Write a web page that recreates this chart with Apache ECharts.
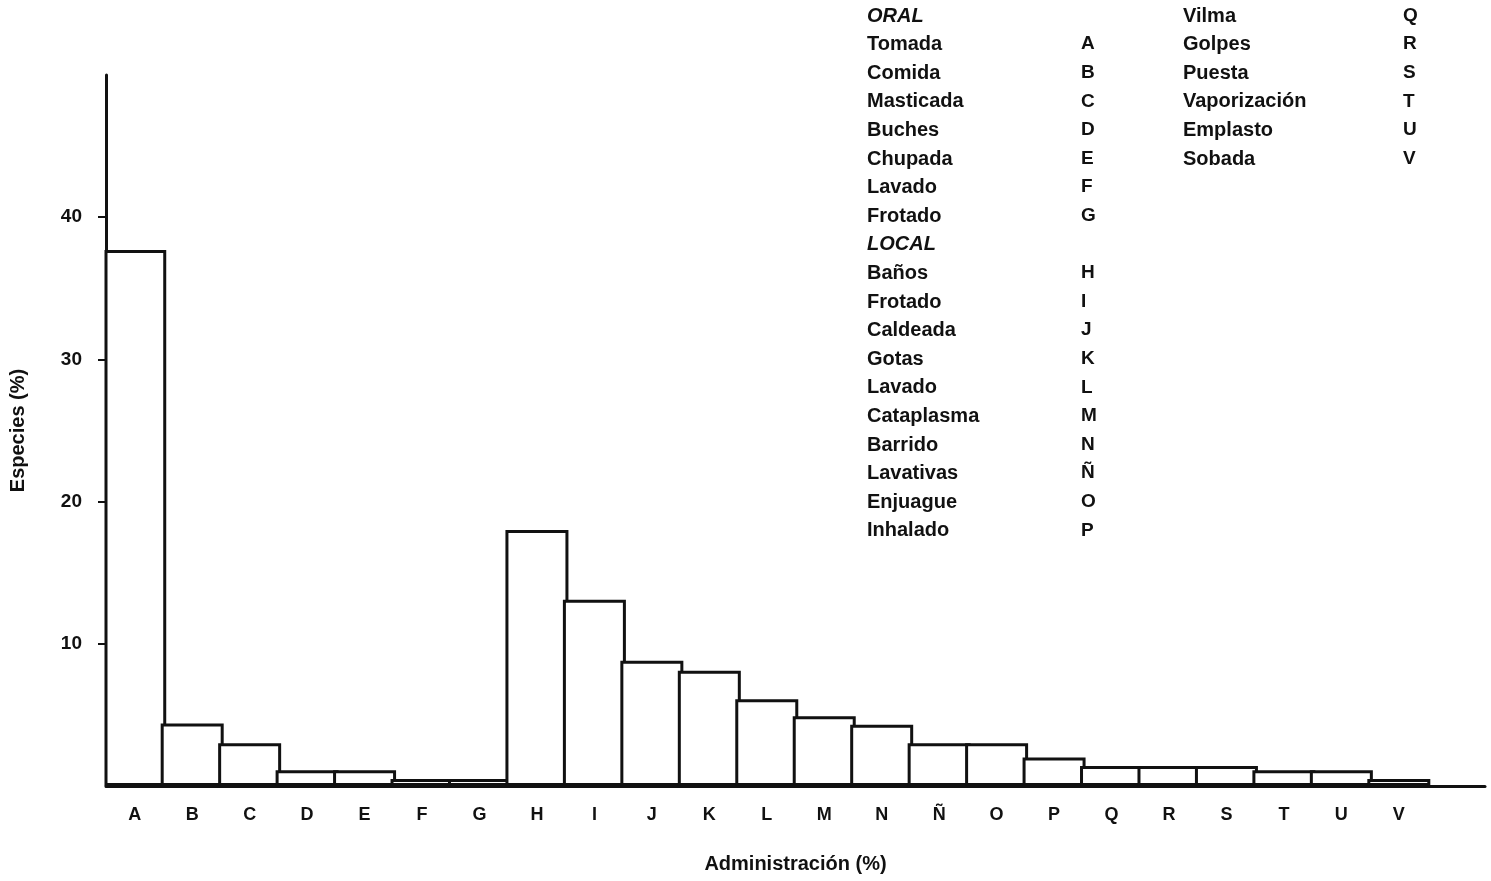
<!DOCTYPE html>
<html><head><meta charset="utf-8">
<script src="https://cdn.jsdelivr.net/npm/echarts@6/dist/echarts.min.js"></script>
<style>html,body{margin:0;padding:0;background:#fff}#c{width:1491px;height:881px}</style>
</head><body><div id="c"></div>
<script>
const categories = ['A','B','C','D','E','F','G','H','I','J','K','L','M','N','Ñ','O','P','Q','R','S','T','U','V'];
const values = [37.7,4.4,3.0,1.1,1.1,0.5,0.5,18.0,13.1,8.8,8.1,6.1,4.9,4.3,3.0,3.0,2.0,1.4,1.4,1.4,1.1,1.1,0.5];
const yTicks = [10,20,30,40];
const legendCol1 = [
  ['ORAL',''],['Tomada','A'],['Comida','B'],['Masticada','C'],['Buches','D'],['Chupada','E'],['Lavado','F'],['Frotado','G'],
  ['LOCAL',''],['Baños','H'],['Frotado','I'],['Caldeada','J'],['Gotas','K'],['Lavado','L'],['Cataplasma','M'],['Barrido','N'],['Lavativas','Ñ'],['Enjuague','O'],['Inhalado','P']
];
const legendCol2 = [['Vilma','Q'],['Golpes','R'],['Puesta','S'],['Vaporización','T'],['Emplasto','U'],['Sobada','V']];

const font = 'Liberation Sans, Arial, sans-serif';
const graphics = [];
function addCol(list, xName, xLetter) {
  list.forEach((item, i) => {
    const y = 17 + i * 28.6;
    const header = item[1] === '';
    graphics.push({type:'text', left:xName, top:y-11, style:{text:item[0], font:(header?'italic bold ':'bold ')+'20px '+font, fill:'#111'}});
    if (!header) graphics.push({type:'text', left:xLetter, top:y-11, style:{text:item[1], font:'bold 19px '+font, fill:'#111'}});
  });
}
addCol(legendCol1, 867, 1081);
addCol(legendCol2, 1183, 1403);

const chart = echarts.init(document.getElementById('c'));
chart.setOption({
  backgroundColor:'#fff',
  animation:false,
  grid:{left:105, right:6, top:75, bottom:95},
  xAxis:{
    type:'category', data:categories.concat(['']),
    name:'Administración (%)', nameLocation:'middle', nameGap:68,
    nameTextStyle:{color:'#111', fontWeight:'bold', fontSize:20, fontFamily:font},
    axisLine:{lineStyle:{color:'#111', width:3}},
    axisTick:{show:false},
    axisLabel:{color:'#111', fontWeight:'bold', fontSize:18, fontFamily:font, margin:20, interval:0}
  },
  yAxis:{
    type:'value', min:0, max:50,
    name:'Especies (%)', nameLocation:'middle', nameGap:78, nameRotate:90,
    nameTextStyle:{color:'#111', fontWeight:'bold', fontSize:20, fontFamily:font},
    splitLine:{show:false},
    axisLine:{show:true, lineStyle:{color:'#111', width:3}},
    axisTick:{show:true, length:8, lineStyle:{color:'#111', width:2}, customValues:yTicks},
    axisLabel:{color:'#111', fontWeight:'bold', fontSize:19, fontFamily:font, margin:24, customValues:yTicks}
  },
  series:[{
    type:'bar', data:values, barWidth:63, barGap:'-100%',
    itemStyle:{color:'#fff', borderColor:'#111', borderWidth:3}
  }],
  graphic:graphics
});
</script></body></html>
